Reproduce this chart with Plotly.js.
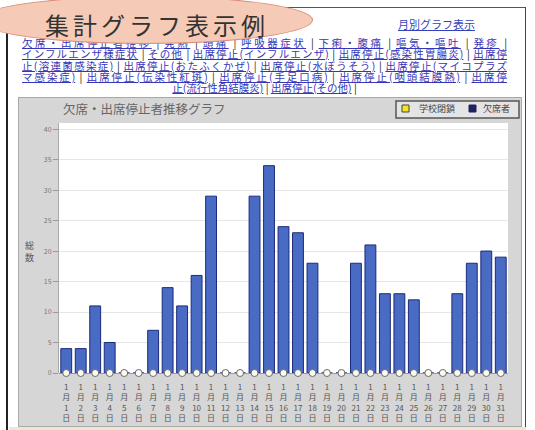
<!DOCTYPE html>
<html><head><meta charset="utf-8">
<script src="https://cdn.plot.ly/plotly-3.0.1.min.js"></script>
<style>
html,body{margin:0;padding:0;width:535px;height:430px;overflow:hidden;background:#fff;font-family:"Noto Sans CJK JP","Noto Sans",sans-serif;}
#frame{position:absolute;left:6px;top:7px;width:520px;height:430px;border-left:2px solid #222;border-top:1px solid #555;border-right:1px solid #444;box-sizing:border-box;}
#oval{position:absolute;left:-23px;top:-4px;width:336px;height:48px;border-radius:50%;background:#f5cbb8;border:1px solid #d98c74;z-index:3;box-sizing:border-box;}
#ovaltext{position:absolute;left:45px;top:13px;font-size:24px;letter-spacing:4px;color:#333;z-index:4;line-height:24px;height:24px;white-space:nowrap;}
#monthly{position:absolute;left:398px;top:17px;font-size:11px;line-height:14px;color:#3344bb;text-decoration:underline;white-space:nowrap;}
#links{position:absolute;left:22px;top:37px;width:485px;font-size:10.5px;line-height:11.3px;color:#222;z-index:1;}
.ln{text-align:justify;text-align-last:justify;white-space:normal;}
.ln.last{text-align:center;text-align-last:center;}
#links a{color:#3636b8;text-decoration:underline;}
#panel{position:absolute;left:18px;top:97px;width:504px;height:330px;box-sizing:border-box;border:1px solid #a9a9a9;overflow:hidden;}
#bottomstrip{position:absolute;left:9px;top:427px;width:517px;height:3px;background:#ece6d4;}
</style>
</head>
<body>
<div id="frame"></div>
<div id="oval"></div>
<div id="ovaltext">集計グラフ表示例</div>
<div id="monthly">月別グラフ表示</div>
<div id="links">
<div class="ln"><a>欠席・出席停止者推移</a> | <a>発熱</a> | <a>頭痛</a> | <a>呼吸器症状</a> | <a>下痢・腹痛</a> | <a>嘔気・嘔吐</a> | <a>発疹</a> |</div>
<div class="ln"><a>インフルエンザ様症状</a> | <a>その他</a> | <a>出席停止(インフルエンザ)</a> | <a>出席停止(感染性胃腸炎)</a> | <a>出席停</a></div>
<div class="ln"><a>止(溶連菌感染症)</a> | <a>出席停止(おたふくかぜ)</a> | <a>出席停止(水ぼうそう)</a> | <a>出席停止(マイコプラズ</a></div>
<div class="ln"><a>マ感染症)</a> | <a>出席停止(伝染性紅斑)</a> | <a>出席停止(手足口病)</a> | <a>出席停止(咽頭結膜熱)</a> | <a>出席停</a></div>
<div class="ln last"><a>止(流行性角結膜炎)</a> | <a>出席停止(その他)</a> |</div>
</div>
<div id="panel"><div id="chart"></div></div>
<div id="bottomstrip"></div>
<script>
// ---- data ----
const dates = ["1月1日","1月2日","1月3日","1月4日","1月5日","1月6日","1月7日","1月8日","1月9日","1月10日",
  "1月11日","1月12日","1月13日","1月14日","1月15日","1月16日","1月17日","1月18日","1月19日","1月20日",
  "1月21日","1月22日","1月23日","1月24日","1月25日","1月26日","1月27日","1月28日","1月29日","1月30日","1月31日"];
const absentees = [4,4,11,5,0,0,7,14,11,16,29,0,0,29,34,24,23,18,0,0,18,21,13,13,12,0,0,13,18,20,19];
const schoolClosure = [0,0,0,0,0,0,0,0,0,0,0,0,0,0,0,0,0,0,0,0,0,0,0,0,0,0,0,0,0,0,0];
const yTicks = [0,5,10,15,20,25,30,35,40];
const chartTitle = "欠席・出席停止者推移グラフ";
const yTitle = "総数";
const seriesNames = ["学校閉鎖","欠席者"];

// vertical (stacked) tick text
const stacked = dates.map(d => d.match(/\d+|./g).join("<br>"));

const W = 504, H = 330;
const M = {l:40, r:15, t:25, b:55};
const PW = W - M.l - M.r, PH = H - M.t - M.b;
// page-pixel -> paper coords (panel origin at page 18,97)
const px = x => (x - 18 - M.l) / PW;
const py = y => (H - M.b - (y - 97)) / PH;

const traces = [
  {type:"bar", name:seriesNames[1], x:dates, y:absentees,
   marker:{color:"#4a6bc4", line:{color:"#1b2a7c", width:1}}, hoverinfo:"x+y"},
  {type:"scatter", mode:"markers", name:seriesNames[0], x:dates, y:schoolClosure, cliponaxis:false,
   marker:{symbol:"circle", size:7, color:"#fbfbf2", line:{color:"#6a6a6a", width:1}}}
];

const font = "Noto Sans CJK JP, Noto Sans, sans-serif";
const layout = {
  width:W, height:H, margin:M, showlegend:false,
  paper_bgcolor:"#d6d6d6", plot_bgcolor:"#ffffff",
  font:{family:font, color:"#555"},
  bargap:0.25,
  xaxis:{type:"category", range:[-0.5, 30.5], tickvals:dates, ticktext:stacked, tickangle:0,
    tickfont:{size:8, color:"#555", family:font}, ticks:"", ticklabelstandoff:8,
    showgrid:false, showline:false, zeroline:false, fixedrange:true},
  yaxis:{range:[0,41], tickvals:yTicks, tickfont:{size:7, color:"#777", family:font},
    ticks:"outside", ticklen:5, tickcolor:"#9a9a9a", gridcolor:"#e6e6e6",
    showline:true, linecolor:"#aaaaaa", zeroline:true, zerolinecolor:"#999", fixedrange:true},
  shapes:[
    {type:"rect", xref:"paper", yref:"paper", x0:px(395), x1:px(518), y0:py(117), y1:py(100),
     fillcolor:"#e4e4e4", line:{color:"#555", width:1.5}},
    {type:"rect", xref:"paper", yref:"paper", x0:px(401), x1:px(408), y0:py(111), y1:py(104),
     fillcolor:"#f2e51e", line:{color:"#444", width:1}},
    {type:"rect", xref:"paper", yref:"paper", x0:px(468), x1:px(475), y0:py(111), y1:py(104),
     fillcolor:"#1e2262", line:{color:"#1e2262", width:1}}
  ],
  annotations:[
    {text:chartTitle, xref:"paper", yref:"paper", x:px(60), y:py(108), xanchor:"left", yanchor:"middle",
     showarrow:false, font:{size:12.5, color:"#666", family:font}},
    {text:yTitle.split("").join("<br>"), xref:"paper", yref:"paper", x:px(29), y:py(250), xanchor:"center", yanchor:"middle",
     showarrow:false, font:{size:9, color:"#555", family:font}},
    {text:seriesNames[0], xref:"paper", yref:"paper", x:px(416), y:py(108), xanchor:"left", yanchor:"middle",
     showarrow:false, font:{size:9, color:"#444", family:font}},
    {text:seriesNames[1], xref:"paper", yref:"paper", x:px(480), y:py(108), xanchor:"left", yanchor:"middle",
     showarrow:false, font:{size:9, color:"#444", family:font}}
  ]
};
Plotly.newPlot("chart", traces, layout, {displayModeBar:false, staticPlot:true});
</script>
</body></html>
